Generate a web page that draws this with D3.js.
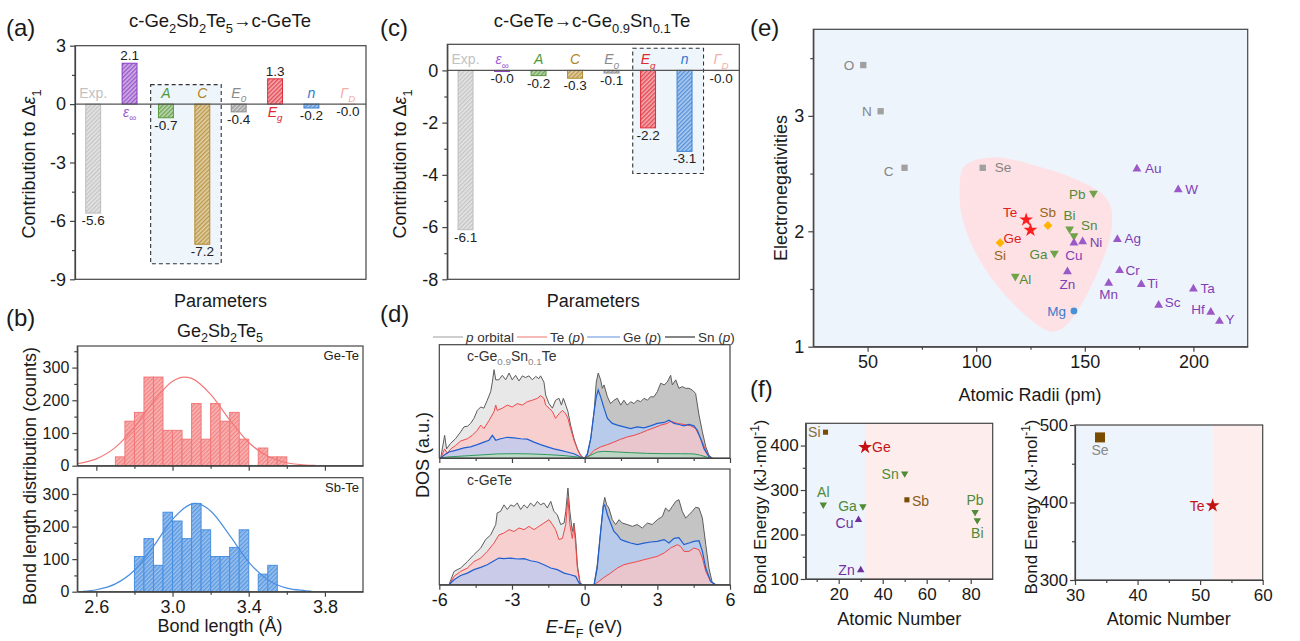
<!DOCTYPE html>
<html>
<head>
<meta charset="utf-8">
<script src="https://cdnjs.cloudflare.com/ajax/libs/d3/7.8.5/d3.min.js"></script>
<style>
  body { margin: 0; background: #fff; }
  svg text { font-family: "Liberation Sans", Arial, Helvetica, sans-serif; }
</style>
</head>
<body>
<svg id="fig" width="1300" height="641"></svg>
<script>
// ---------------- data ----------------
// (a)/(c) contributions
const paramKeys = ["Exp", "epsInf", "A", "C", "E0", "Eg", "n", "GammaD"];
const gstContrib = [-5.6, 2.1, -0.7, -7.2, -0.4, 1.3, -0.2, -0.01];
const snContrib = [-6.1, -0.04, -0.2, -0.3, -0.1, -2.2, -3.1, -0.01];
const gstBoxKeys = ["A", "C"], gstBoxRange = [1.0, -8.2];
const snBoxKeys = ["Eg", "n"], snBoxRange = [0.85, -3.95];
const paramLabels = [
  [{t: "Exp."}],
  [{t: "ε", i: 1}, {t: "∞", k: "sub"}],
  [{t: "A", i: 1}],
  [{t: "C", i: 1}],
  [{t: "E", i: 1}, {t: "0", k: "sub", i: 1}],
  [{t: "E", i: 1}, {t: "g", k: "sub", i: 1}],
  [{t: "n", i: 1}],
  [{t: "Γ", i: 1}, {t: "D", k: "sub", i: 1}]
];

// (b) bond length histograms (bin left edges, width 0.05)
const binWidth = 0.05;
const geTeBins = [2.70, 2.75, 2.80, 2.85, 2.90, 2.95, 3.00, 3.05, 3.10, 3.15, 3.20, 3.25, 3.30, 3.35, 3.40, 3.45, 3.50, 3.55];
const geTeCounts = [27, 136, 163, 271, 271, 108, 108, 81, 190, 81, 190, 136, 163, 81, 0, 54, 27, 27];
const sbTeBins = [2.80, 2.85, 2.90, 2.95, 3.00, 3.05, 3.10, 3.15, 3.20, 3.25, 3.30, 3.35, 3.40, 3.45, 3.50];
const sbTeCounts = [108, 163, 81, 244, 217, 163, 271, 190, 108, 108, 136, 190, 0, 54, 81];
const geTeFit = [[2.50, 6], [2.60, 21], [2.70, 56], [2.80, 118], [2.90, 196], [3.00, 258], [3.06, 271], [3.10, 267], [3.20, 218], [3.30, 140], [3.40, 71], [3.50, 29], [3.60, 9], [3.70, 2], [3.75, 1]];
const sbTeFit = [[2.53, 1], [2.60, 6], [2.70, 24], [2.80, 66], [2.90, 139], [3.00, 222], [3.12, 271], [3.20, 248], [3.30, 173], [3.40, 91], [3.50, 37], [3.60, 11], [3.70, 3], [3.73, 1]];

// (d) DOS, [E-EF, DOS in % of panel height]
const snTotV = [[-5.94,0],[-5.78,20],[-5.70,8],[-5.53,13],[-5.33,17],[-5.12,23],[-4.98,27.5],[-4.84,28],[-4.71,30.5],[-4.57,35],[-4.43,42],[-4.29,45],[-4.16,44],[-4.02,51],[-3.88,58.5],[-3.81,67],[-3.74,78],[-3.67,69],[-3.54,69],[-3.40,73],[-3.26,69],[-3.12,75],[-2.99,69],[-2.85,73],[-2.71,68],[-2.57,72.5],[-2.44,71],[-2.30,72.5],[-2.16,69],[-2.02,72],[-1.89,70],[-1.82,72.5],[-1.68,67],[-1.61,55.6],[-1.47,48],[-1.33,44],[-1.20,51],[-1.06,52.7],[-0.96,46.7],[-0.88,52.7],[-0.78,46.7],[-0.69,41],[-0.58,29],[-0.44,17],[-0.30,8],[-0.17,2.4],[-0.03,0]];
const snTotC = [[0,0],[0.11,2.4],[0.25,17],[0.39,41],[0.48,67],[0.56,75],[0.66,69],[0.73,61.5],[0.80,64.5],[0.94,54],[1.07,48],[1.21,51],[1.35,52.7],[1.49,46.7],[1.62,51],[1.76,46.7],[1.90,49.7],[2.04,48],[2.17,51],[2.31,49.7],[2.45,52.7],[2.59,51],[2.72,54],[2.86,54],[3.00,58.5],[3.14,66],[3.28,64.5],[3.41,67],[3.55,73],[3.62,64.5],[3.76,69],[3.89,61.5],[4.03,63],[4.17,61.5],[4.31,61.5],[4.44,60],[4.58,57],[4.72,38],[4.86,23],[5.00,10],[5.13,2.4],[5.27,0]];
const snTeV = [[-5.94,0],[-5.78,8],[-5.67,4],[-5.53,8],[-5.33,11],[-5.12,15],[-4.84,17],[-4.64,20],[-4.43,24.5],[-4.29,29],[-4.16,26],[-3.95,33],[-3.74,41],[-3.67,46.7],[-3.61,42],[-3.40,44],[-3.19,46.7],[-2.99,45],[-2.78,48],[-2.57,46.7],[-2.37,49.7],[-2.16,51],[-1.95,52.7],[-1.82,55],[-1.68,52.7],[-1.61,46.7],[-1.47,44],[-1.33,41],[-1.20,35],[-1.06,39],[-0.92,42],[-0.78,39],[-0.69,35],[-0.58,26],[-0.44,15.7],[-0.30,8],[-0.17,2.4],[-0.03,0]];
const snTeC = [[0,0],[0.18,1.8],[0.39,6.8],[0.66,9.8],[0.94,11.8],[1.21,14],[1.49,16.6],[1.76,18.6],[2.04,20],[2.31,22],[2.59,24.5],[2.86,26.6],[3.14,29],[3.41,30.5],[3.55,32.5],[3.83,30.5],[4.10,29.6],[4.38,28.4],[4.58,26],[4.72,20],[4.86,14],[5.00,6.8],[5.13,1.5],[5.27,0]];
const snGeV = [[-5.94,0],[-5.81,2.4],[-5.60,5.3],[-5.33,6.8],[-4.98,8.9],[-4.71,9.8],[-4.43,11.8],[-4.16,14],[-3.95,15.7],[-3.81,20],[-3.67,15.7],[-3.47,17],[-3.19,18.3],[-2.92,17.8],[-2.64,17],[-2.37,16.6],[-2.09,14],[-1.82,11.8],[-1.54,9.8],[-1.27,8],[-0.99,6.8],[-0.72,5.3],[-0.44,3.8],[-0.17,0.9],[-0.03,0]];
const snGeC = [[0,0],[0.11,3.8],[0.25,17],[0.39,41],[0.48,54],[0.56,60],[0.66,54],[0.80,44],[0.94,35],[1.14,30.5],[1.35,29],[1.62,27.5],[1.90,26],[2.17,27.5],[2.45,26.6],[2.72,28.4],[3.00,30.5],[3.28,31.4],[3.48,33.4],[3.69,30.5],[3.89,29.6],[4.10,28.4],[4.31,29.6],[4.51,28.4],[4.65,24.5],[4.79,17],[4.93,8],[5.13,1],[5.27,0]];
const snSnV = [[-5.94,0],[-5.67,0.9],[-4.98,1.8],[-4.29,2.7],[-3.61,3.6],[-2.92,3.8],[-2.23,3.6],[-1.54,3],[-0.85,2.1],[-0.30,0.9],[-0.03,0]];
const snSnC = [[0,0],[0.25,2.4],[0.52,5.3],[0.80,5.9],[1.35,5.3],[1.90,4.7],[2.59,4.1],[3.28,3.8],[3.96,3.8],[4.51,3.6],[4.79,2.4],[5.06,0.6],[5.27,0]];
const geTotV = [[-5.60,0],[-5.39,11.5],[-5.12,14.4],[-4.84,20],[-4.57,26],[-4.29,31.7],[-4.09,39],[-3.88,43],[-3.67,52],[-3.61,62],[-3.47,63.4],[-3.33,69],[-3.19,65],[-3.05,69],[-2.92,67.7],[-2.78,70.6],[-2.64,65],[-2.50,69],[-2.37,66.3],[-2.23,70.6],[-2.09,67.7],[-1.95,72],[-1.82,69],[-1.68,70.6],[-1.54,66.3],[-1.40,72],[-1.27,63.4],[-1.13,60.5],[-0.99,52],[-0.85,53.3],[-0.78,63.4],[-0.69,83.6],[-0.61,63.4],[-0.51,46],[-0.44,53.3],[-0.37,40],[-0.30,17],[-0.19,1.5],[-0.10,0]];
const geTeV = [[-5.60,0],[-5.39,7.2],[-5.12,11.5],[-4.84,14.4],[-4.57,20],[-4.29,23],[-4.02,28.8],[-3.74,36],[-3.54,43],[-3.33,44.7],[-3.12,47.6],[-2.92,46],[-2.71,49],[-2.50,47.6],[-2.30,50.4],[-2.09,47.6],[-1.89,50.4],[-1.68,53.3],[-1.47,56.2],[-1.33,52],[-1.20,47.6],[-1.06,39],[-0.92,40],[-0.78,52],[-0.69,75],[-0.61,52],[-0.51,40],[-0.44,50.4],[-0.37,34.6],[-0.30,14.4],[-0.19,1.5],[-0.10,0]];
const geGeV = [[-5.60,0],[-5.39,4.3],[-5.12,8],[-4.84,10],[-4.57,13],[-4.29,15],[-4.02,17.3],[-3.74,20.7],[-3.54,23],[-3.33,22.5],[-3.05,23],[-2.78,22.2],[-2.50,22.5],[-2.23,20.7],[-1.95,19.6],[-1.68,17.3],[-1.40,14.4],[-1.13,13],[-0.85,10],[-0.58,8.6],[-0.37,7.2],[-0.23,1.5],[-0.10,0]];
const geTotC = [[0.39,0],[0.52,17.3],[0.66,46],[0.77,69],[0.83,75.5],[0.91,69],[1.00,66.3],[1.14,56.2],[1.28,52],[1.42,56.2],[1.55,53.3],[1.76,52],[1.97,50.4],[2.17,52],[2.38,49],[2.59,53.3],[2.79,52],[3.00,56.2],[3.21,59],[3.34,66.3],[3.48,63.4],[3.62,67.7],[3.76,72],[3.89,73.5],[4.03,63.4],[4.17,57.6],[4.31,60.5],[4.44,63.4],[4.58,66.9],[4.72,66.3],[4.86,57.6],[5.00,34.6],[5.13,14.4],[5.27,1.5],[5.41,0]];
const geGeC = [[0.39,0],[0.52,14.4],[0.66,46],[0.77,67.7],[0.83,69],[0.94,60.5],[1.07,53.3],[1.21,46],[1.35,43],[1.49,39],[1.69,37.5],[1.90,36],[2.17,34.6],[2.45,36],[2.72,36.9],[3.00,37.5],[3.28,39],[3.48,36],[3.69,40],[3.89,40.6],[4.10,34.6],[4.31,36],[4.51,37.5],[4.72,38],[4.86,28.8],[5.00,14.4],[5.20,2.9],[5.41,0]];
const geTeC = [[0.39,0],[0.59,2.9],[0.80,6.3],[1.07,10],[1.35,14.4],[1.62,17.3],[1.90,18.7],[2.17,20],[2.45,21.6],[2.72,23],[3.00,24.5],[3.28,27.4],[3.55,31.7],[3.83,34.6],[3.96,33.1],[4.10,28.8],[4.31,28.8],[4.51,31.7],[4.72,30.3],[4.86,23],[5.00,11.5],[5.20,2.9],[5.41,0]];

// (e) atomic radius vs electronegativity
const elNames = ["O", "N", "C", "Se", "Te", "Ge", "Sb", "Si", "Pb", "Bi", "Sn", "Cu", "Ni", "Ga", "Al", "Zn", "Mg", "Au", "W", "Ag", "Cr", "Mn", "Ti", "Sc", "Ta", "Hf", "Y"];
const elRadius = [48, 56, 67, 103, 123, 125, 133, 111, 154, 143, 145, 145, 149, 136, 118, 142, 145, 174, 193, 165, 166, 161, 176, 184, 200, 208, 212];
const elNeg = [3.44, 3.04, 2.55, 2.55, 2.10, 2.01, 2.05, 1.90, 2.33, 2.02, 1.96, 1.90, 1.91, 1.81, 1.61, 1.65, 1.31, 2.54, 2.36, 1.93, 1.66, 1.55, 1.54, 1.36, 1.50, 1.30, 1.22];
const elGroup = ["nm", "nm", "nm", "nm", "star", "star", "dia", "dia", "down", "down", "down", "up", "up", "down", "down", "up", "circ", "up", "up", "up", "up", "up", "up", "up", "up", "up", "up"];
const blobRadius = [92.4, 94, 100, 110.8, 130.6, 145.9, 158.2, 162, 162, 158.2, 152, 145.9, 139.8, 135.2, 130.6, 119.9, 107.6, 98.5, 93.2];
const blobNeg = [2.38, 2.55, 2.62, 2.64, 2.55, 2.45, 2.32, 2.21, 1.98, 1.75, 1.49, 1.29, 1.16, 1.13, 1.16, 1.32, 1.58, 1.86, 2.15];

// (f) atomic number vs bond energy
const bondNames = ["Si", "Ge", "Sn", "Sb", "Al", "Ga", "Cu", "Zn", "Pb", "Bi"];
const bondZ = [14, 32, 50, 51, 13, 31, 29, 30, 82, 83];
const bondEnergy = [430, 396, 337, 278, 267, 263, 233, 120, 250, 232];
const bondGroup = ["sq", "star", "down", "sq", "down", "down", "up", "up", "down", "down"];
const chalNames = ["Se", "Te"];
const chalZ = [34, 52];
const chalEnergy = [484, 396];
const chalGroup = ["bigsq", "star"];
const splitLeftZ = 32, splitRightZ = 52;

// ---------------- helpers ----------------
const svg = d3.select("#fig");
const defs = svg.append("defs");
const TXT = "#1a1a1a", AX = "#444";
const hy = s => String(s).replace("−", "-");

function rich(g, x, y, parts, o = {}) {
  const size = o.size || 18;
  const t = g.append("text").attr("x", x).attr("y", y).attr("font-size", size)
    .attr("fill", o.color || TXT).attr("text-anchor", o.anchor || "start");
  let shift = 0;
  parts.forEach(p => {
    const k = p.k || "";
    const target = k === "sub" ? size * 0.3 : k === "sup" ? -size * 0.42 : 0;
    const ts = t.append("tspan").text(p.t).attr("dy", target - shift);
    shift = target;
    if (k) ts.attr("font-size", size * 0.7);
    if (p.i) ts.attr("font-style", "italic");
    if (p.c) ts.attr("fill", p.c);
  });
  return t;
}
function txt(g, x, y, s, o = {}) {
  return rich(g, x, y, [{t: s}], o);
}
function vlabel(g, cx, cy, parts, size) {
  const gg = g.append("g").attr("transform", `translate(${cx},${cy}) rotate(-90)`);
  rich(gg, 0, size * 0.35, parts, {size: size, anchor: "middle"});
}
// major + minor ticks, outward
function axis(g, orient, scale, pos, major, minor, fmt, o = {}) {
  const gen = orient === "left" ? d3.axisLeft : d3.axisBottom;
  const a = g.append("g").attr("transform", orient === "left" ? `translate(${pos},0)` : `translate(0,${pos})`);
  a.call(gen(scale).tickValues(major).tickSize(5).tickSizeOuter(0).tickPadding(o.pad ?? 4).tickFormat(fmt || (() => "")));
  if (minor && minor.length) {
    const m = a.append("g").call(gen(scale).tickValues(minor).tickSize(3).tickFormat(() => ""));
    m.select(".domain").remove();
  }
  a.attr("font-family", null);
  a.selectAll(".domain").attr("stroke", AX).attr("stroke-width", 1.2);
  a.selectAll(".tick line").attr("stroke", AX).attr("stroke-width", 1.2);
  a.selectAll(".tick text").attr("font-size", o.size || 18).attr("fill", TXT);
  return a;
}
function frame(g, x0, x1, y0, y1) {
  g.append("rect").attr("x", x0).attr("y", y0).attr("width", x1 - x0).attr("height", y1 - y0)
    .attr("fill", "none").attr("stroke", AX).attr("stroke-width", 1.2);
}
function hatch(id, color, mix) {
  const bg = d3.interpolateRgb(color, "#ffffff")(mix);
  const p = defs.append("pattern").attr("id", id).attr("patternUnits", "userSpaceOnUse")
    .attr("width", 3).attr("height", 3).attr("patternTransform", "rotate(45)");
  p.append("rect").attr("width", 3).attr("height", 3).attr("fill", bg);
  p.append("line").attr("x1", 0.75).attr("y1", 0).attr("x2", 0.75).attr("y2", 3)
    .attr("stroke", color).attr("stroke-width", 1.1);
}
function marker(g, type, x, y, size, color) {
  let sym = d3.symbolSquare, rot = 0;
  if (type === "star") sym = d3.symbolStar;
  if (type === "up") sym = d3.symbolTriangle;
  if (type === "down") { sym = d3.symbolTriangle; rot = 180; }
  if (type === "dia") rot = 45;
  if (type === "circ") sym = d3.symbolCircle;
  g.append("path").attr("d", d3.symbol(sym, size)())
    .attr("transform", `translate(${x},${y}) rotate(${rot})`).attr("fill", color);
}
const intFmt = d => hy(d3.format("d")(d));

// ---------------- (a) & (c) ----------------
const paramColors = ["#bdbdbd", "#8b3fc4", "#5b9a3e", "#b48a2c", "#8c8c8c", "#e0303c", "#3b82d6", "#f3b3ac"];
const paramTextColors = ["#c2c2c2", "#9b5ad6", "#4e9a3a", "#b0852a", "#8a8a8a", "#e0282e", "#2f7bd0", "#f2b0a8"];
paramColors.forEach((c, i) => hatch("hp" + i, c, 0.6));

function contribPanel(o) {
  const g = svg.append("g");
  const x = d3.scaleBand().domain(paramKeys).range([o.x0, o.x1]).paddingInner(0.59).paddingOuter(0.295);
  const y = d3.scaleLinear().domain(o.yDomain).range([o.y1, o.y0]);
  const step = x.step(), cx = k => x(k) + x.bandwidth() / 2;
  const bx0 = cx(o.boxKeys[0]) - 0.42 * step, bx1 = cx(o.boxKeys[1]) + 0.52 * step;
  g.append("rect").attr("x", bx0).attr("y", y(o.boxRange[0])).attr("width", bx1 - bx0)
    .attr("height", y(o.boxRange[1]) - y(o.boxRange[0])).attr("fill", "#eef5fb")
    .attr("stroke", "#333").attr("stroke-width", 1.1).attr("stroke-dasharray", "4,3");
  o.values.forEach((v, i) => {
    const k = paramKeys[i];
    g.append("rect").attr("x", x(k)).attr("width", x.bandwidth())
      .attr("y", y(Math.max(v, 0))).attr("height", Math.abs(y(v) - y(0)))
      .attr("fill", `url(#hp${i})`).attr("stroke", paramColors[i]).attr("stroke-width", 1);
    const lab = v >= 0 ? y(0) + 13 : y(0) - 6;
    rich(g, cx(k), lab, paramLabels[i], {size: 14, anchor: "middle", color: paramTextColors[i]});
    const vs = (v < 0 ? "-" : "") + Math.abs(v).toFixed(1);
    txt(g, cx(k), v >= 0 ? y(v) - 3 : y(v) + 12, vs, {size: 13.5, anchor: "middle", color: "#222"});
  });
  g.append("line").attr("x1", o.x0).attr("x2", o.x1).attr("y1", y(0)).attr("y2", y(0))
    .attr("stroke", "#555").attr("stroke-width", 1.2);
  axis(g, "left", y, o.x0, o.major, o.minor, intFmt);
  frame(g, o.x0, o.x1, o.y0, o.y1);
  vlabel(g, o.ylabX, 164, [{t: "Contribution to Δ"}, {t: "ε", i: 1}, {t: "1", k: "sub"}], 18);
  txt(g, (o.x0 + o.x1) / 2, 307, "Parameters", {size: 18, anchor: "middle"});
  rich(g, o.titleX, 27, o.title, {size: 18.5, anchor: "middle"});
  txt(g, o.tagX, 36, o.tag, {size: 24});
}
contribPanel({
  x0: 75, x1: 366, y0: 45.7, y1: 279.3, yDomain: [-9, 3], values: gstContrib,
  boxKeys: gstBoxKeys, boxRange: gstBoxRange, major: [3, 0, -3, -6, -9], minor: [1.5, -1.5, -4.5, -7.5],
  ylabX: 29, titleX: 220, tag: "(a)", tagX: 6,
  title: [{t: "c-Ge"}, {t: "2", k: "sub"}, {t: "Sb"}, {t: "2", k: "sub"}, {t: "Te"}, {t: "5", k: "sub"}, {t: "→c-GeTe"}]
});
contribPanel({
  x0: 447.3, x1: 739.3, y0: 44.3, y1: 279.3, yDomain: [-8, 1], values: snContrib,
  boxKeys: snBoxKeys, boxRange: snBoxRange, major: [0, -2, -4, -6, -8], minor: [-1, -3, -5, -7],
  ylabX: 400, titleX: 592, tag: "(c)", tagX: 380,
  title: [{t: "c-GeTe→c-Ge"}, {t: "0.9", k: "sub"}, {t: "Sn"}, {t: "0.1", k: "sub"}, {t: "Te"}]
});

// ---------------- (b) ----------------
hatch("hge", "#f27878", 0.45);
hatch("hsb", "#4a8fe0", 0.45);
function histPanel(o) {
  const g = svg.append("g");
  const x = d3.scaleLinear().domain([2.5, 4.0]).range([77.3, 363]);
  const y = d3.scaleLinear().domain([0, o.top]).range([o.y1, o.y0]);
  o.bins.forEach((b, i) => {
    if (!o.counts[i]) return;
    g.append("rect").attr("x", x(b)).attr("width", x(b + binWidth) - x(b))
      .attr("y", y(o.counts[i])).attr("height", y(0) - y(o.counts[i]))
      .attr("fill", `url(#${o.pat})`).attr("stroke", o.color).attr("stroke-width", 1);
  });
  g.append("path").datum(o.fit).attr("fill", "none").attr("stroke", o.color).attr("stroke-width", 1.2)
    .attr("d", d3.line().x(d => x(d[0])).y(d => y(d[1])).curve(d3.curveMonotoneX));
  axis(g, "left", y, 77.3, [0, 100, 200, 300], o.top > 355 ? [50, 150, 250, 350] : [50, 150, 250], intFmt, {size: 16, pad: 3});
  axis(g, "bottom", x, o.y1, [2.6, 3.0, 3.4, 3.8], [2.8, 3.2, 3.6], o.labels ? (d => d.toFixed(1)) : null);
  frame(g, 77.3, 363, o.y0, o.y1);
  txt(g, 359, o.y0 + 14, o.name, {size: 13, anchor: "end", color: "#222"});
}
histPanel({y0: 346, y1: 465.7, top: 366, bins: geTeBins, counts: geTeCounts, fit: geTeFit, color: "#f27878", pat: "hge", name: "Ge-Te", labels: false});
histPanel({y0: 477.7, y1: 591.7, top: 350, bins: sbTeBins, counts: sbTeCounts, fit: sbTeFit, color: "#4a8fe0", pat: "hsb", name: "Sb-Te", labels: true});
{
  const g = svg.append("g");
  txt(g, 6, 326, "(b)", {size: 24});
  rich(g, 220, 337, [{t: "Ge"}, {t: "2", k: "sub"}, {t: "Sb"}, {t: "2", k: "sub"}, {t: "Te"}, {t: "5", k: "sub"}], {size: 18, anchor: "middle"});
  vlabel(g, 30, 476, [{t: "Bond length distribution (counts)"}], 18);
  txt(g, 220, 632, "Bond length (Å)", {size: 18, anchor: "middle"});
}

// ---------------- (d) ----------------
{
  const g = svg.append("g");
  const x = d3.scaleLinear().domain([-6, 6]).range([439.3, 730]);
  const panels = [
    {y0: 344.7, y1: 458, name: [{t: "c-Ge"}, {t: "0.9", k: "sub", c: "#888"}, {t: "Sn"}, {t: "0.1", k: "sub", c: "#888"}, {t: "Te"}],
     sets: [[snTotV, snTeV, snGeV, snSnV], [snTotC, snGeC, snTeC, snSnC]], lines: [snTotV, snTotC, snTeV, snTeC, snGeV, snGeC, snSnV, snSnC]},
    {y0: 469, y1: 584.7, name: [{t: "c-GeTe"}],
     sets: [[geTotV, geTeV, geGeV], [geTotC, geGeC, geTeC]], lines: [geTotV, geTotC, geTeV, geTeC, geGeV, geGeC]}
  ];
  const fillV = {tot: "#e8e8e8", te: "#f7cfcf", ge: "#c9cbe8", sn: "#bfdcc9"};
  const fillC = {tot: "#c4c4c4", te: "#e9c6cd", ge: "#b9cbea", sn: "#bcd6c3"};
  const kind = arr => [snTotV, snTotC, geTotV, geTotC].includes(arr) ? "tot" :
    [snTeV, snTeC, geTeV, geTeC].includes(arr) ? "te" : [snGeV, snGeC, geGeV, geGeC].includes(arr) ? "ge" : "sn";
  const lineCol = {tot: "#5c5c5c", te: "#f04848", ge: "#1f5fd0", sn: "#2e9a5e"};
  panels.forEach((p, pi) => {
    const y = d3.scaleLinear().domain([0, 100]).range([p.y1, p.y0]);
    const area = d3.area().x(d => x(d[0])).y0(y(0)).y1(d => y(d[1]));
    const line = d3.line().x(d => x(d[0])).y(d => y(d[1]));
    p.sets.forEach((set, si) => set.forEach(arr => {
      g.append("path").datum(arr).attr("d", area).attr("fill", (si ? fillC : fillV)[kind(arr)]);
    }));
    p.lines.forEach(arr => {
      g.append("path").datum(arr).attr("d", line).attr("fill", "none")
        .attr("stroke", lineCol[kind(arr)]).attr("stroke-width", kind(arr) === "ge" ? 1.2 : 1);
    });
    axis(g, "bottom", x, p.y1, [-6, -3, 0, 3, 6], [-4.5, -1.5, 1.5, 4.5], pi ? intFmt : null);
    frame(g, 439.3, 730, p.y0, p.y1);
    rich(g, 467, p.y0 + 16, p.name, {size: 14, color: "#333"});
  });
  // legend
  const leg = [
    {x1: 433, x2: 463, c: "#b4b4b4", parts: [{t: "p", i: 1}, {t: " orbital"}]},
    {x1: 517, x2: 547, c: "#f49494", parts: [{t: "Te ("}, {t: "p", i: 1}, {t: ")"}]},
    {x1: 587, x2: 620, c: "#94b4ea", parts: [{t: "Ge ("}, {t: "p", i: 1}, {t: ")"}]},
    {x1: 665, x2: 695, c: "#444444", parts: [{t: "Sn ("}, {t: "p", i: 1}, {t: ")"}]}
  ];
  leg.forEach(l => {
    g.append("line").attr("x1", l.x1).attr("x2", l.x2).attr("y1", 337).attr("y2", 337).attr("stroke", l.c).attr("stroke-width", 1.3);
    rich(g, l.x2 + 3, 341.5, l.parts, {size: 13.5, color: "#333"});
  });
  txt(g, 380, 322, "(d)", {size: 24});
  vlabel(g, 423, 455, [{t: "DOS (a.u.)"}], 18);
  rich(g, 584, 633, [{t: "E", i: 1}, {t: "-"}, {t: "E", i: 1}, {t: "F", k: "sub"}, {t: " (eV)"}], {size: 18, anchor: "middle"});
}

// ---------------- (e) ----------------
{
  const g = svg.append("g");
  const X0 = 813.3, X1 = 1247.7, Y0 = 29.3, Y1 = 346.7;
  const x = d3.scaleLinear().domain([25, 225]).range([X0, X1]);
  const y = d3.scaleLinear().domain([1, 3.75]).range([Y1, Y0]);
  g.append("rect").attr("x", X0).attr("y", Y0).attr("width", X1 - X0).attr("height", Y1 - Y0).attr("fill", "#eef4fc");
  g.append("path").datum(blobRadius.map((r, i) => [r, blobNeg[i]]))
    .attr("d", d3.line().x(d => x(d[0])).y(d => y(d[1])).curve(d3.curveCatmullRomClosed.alpha(0.5)))
    .attr("fill", "#fde1e5");
  const style = {
    nm: {m: "#a0a0a0", t: "#848484", s: 40}, star: {m: "#ff1e1e", t: "#e02020", s: 60},
    dia: {m: "#ffb400", t: "#9a6414", s: 40}, down: {m: "#6ea34a", t: "#4e8c34", s: 34},
    up: {m: "#9b59c8", t: "#7e3fb5", s: 34}, circ: {m: "#4a90d9", t: "#3a7cc8", s: 36}
  };
  const lab = {
    O: ["end", -9, 5], N: ["end", -9, 5], C: ["end", -11, 8], Se: ["start", 12, 4],
    Te: ["end", -9, -3], Ge: ["end", -9, 13], Sb: ["middle", 0, -9], Si: ["middle", 0, 17],
    Pb: ["end", -8, 6], Bi: ["middle", 0, -9], Sn: ["start", 7, -6], Cu: ["middle", 0, 17],
    Ni: ["start", 7, 5], Ga: ["end", -7, 6], Al: ["start", 4, 8], Zn: ["middle", 0, 17],
    Mg: ["end", -8, 5], Au: ["start", 8, 4], W: ["start", 7, 4], Ag: ["start", 7, 4],
    Cr: ["start", 6, 4], Mn: ["middle", 0, 16], Ti: ["start", 6, 4], Sc: ["start", 6, 2],
    Ta: ["start", 7, 4], Hf: ["end", -6, 2], Y: ["start", 6, 3]
  };
  elNames.forEach((n, i) => {
    const s = style[elGroup[i]], px = x(elRadius[i]), py = y(elNeg[i]);
    marker(g, elGroup[i], px, py, s.s, s.m);
    const [anc, dx, dy] = lab[n];
    txt(g, px + dx, py + dy, n, {size: 13.5, anchor: anc, color: s.t});
  });
  axis(g, "left", y, X0, [1, 2, 3], [1.5, 2.5, 3.5], intFmt);
  axis(g, "bottom", x, Y1, [50, 100, 150, 200], [75, 125, 175], intFmt);
  frame(g, X0, X1, Y0, Y1);
  txt(g, 750, 36, "(e)", {size: 24});
  vlabel(g, 781, 188, [{t: "Electronegativities"}], 18);
  txt(g, 1030, 401, "Atomic Radii (pm)", {size: 18, anchor: "middle"});
}

// ---------------- (f) ----------------
{
  const g = svg.append("g");
  const fstyle = {
    sq: {m: "#7a4c00", s: 26}, bigsq: {m: "#7a4c00", s: 100}, star: {m: "#c41010", s: 60},
    down: {m: "#4f8a35", s: 24}, up: {m: "#7030a0", s: 24}
  };
  const ftext = {Si: "#8a6a36", Ge: "#c41515", Sn: "#4f8a35", Sb: "#8a5a1a", Al: "#4f8a35", Ga: "#4f8a35",
    Cu: "#7030a0", Zn: "#7030a0", Pb: "#4f8a35", Bi: "#4f8a35", Se: "#888888", Te: "#c41515"};
  const flab = {
    Si: ["end", -5, 5], Ge: ["start", 7, 5], Sn: ["end", -6, 5], Sb: ["start", 5, 6],
    Al: ["middle", 0, -8], Ga: ["end", -6, 5], Cu: ["end", -5, 8], Zn: ["end", -6, 5],
    Pb: ["middle", 0, -7], Bi: ["middle", 0, 18], Se: ["middle", 0, 18], Te: ["end", -8, 5]
  };
  function fPanel(o) {
    const x = d3.scaleLinear().domain(o.xd).range([o.X0, o.X1]);
    const y = d3.scaleLinear().domain(o.yd).range([o.Y1, o.Y0]);
    g.append("rect").attr("x", o.X0).attr("y", o.Y0).attr("width", x(o.split) - o.X0).attr("height", o.Y1 - o.Y0).attr("fill", "#eef4fc");
    g.append("rect").attr("x", x(o.split)).attr("y", o.Y0).attr("width", o.X1 - x(o.split)).attr("height", o.Y1 - o.Y0).attr("fill", "#fdeded");
    o.names.forEach((n, i) => {
      const px = x(o.z[i]), py = y(o.e[i]), st = fstyle[o.grp[i]];
      marker(g, o.grp[i], px, py, st.s, st.m);
      const [anc, dx, dy] = flab[n];
      txt(g, px + dx, py + dy, n, {size: 14, anchor: anc, color: ftext[n]});
    });
    axis(g, "left", y, o.X0, o.ym, o.yn, intFmt, {size: 17, pad: 2});
    axis(g, "bottom", x, o.Y1, o.xm, o.xn, intFmt, {size: 17});
    frame(g, o.X0, o.X1, o.Y0, o.Y1);
    vlabel(g, o.ylabX, 507, [{t: "Bond Energy (kJ·mol"}, {t: "-1", k: "sup"}, {t: ")"}], 17);
    txt(g, (o.X0 + o.X1) / 2, 625, "Atomic Number", {size: 18, anchor: "middle"});
  }
  fPanel({X0: 805.7, X1: 992.7, Y0: 423.3, Y1: 579, xd: [5, 90], yd: [100, 450], split: splitLeftZ,
    names: bondNames, z: bondZ, e: bondEnergy, grp: bondGroup,
    xm: [20, 40, 60, 80], xn: [10, 30, 50, 70], ym: [100, 200, 300, 400], yn: [150, 250, 350], ylabX: 760});
  fPanel({X0: 1075, X1: 1262.7, Y0: 425, Y1: 580, xd: [30, 60], yd: [300, 500], split: splitRightZ,
    names: chalNames, z: chalZ, e: chalEnergy, grp: chalGroup,
    xm: [30, 40, 50, 60], xn: [35, 45, 55], ym: [300, 400, 500], yn: [350, 450], ylabX: 1031.5});
  txt(g, 750, 397, "(f)", {size: 24});
}
</script>
</body>
</html>
